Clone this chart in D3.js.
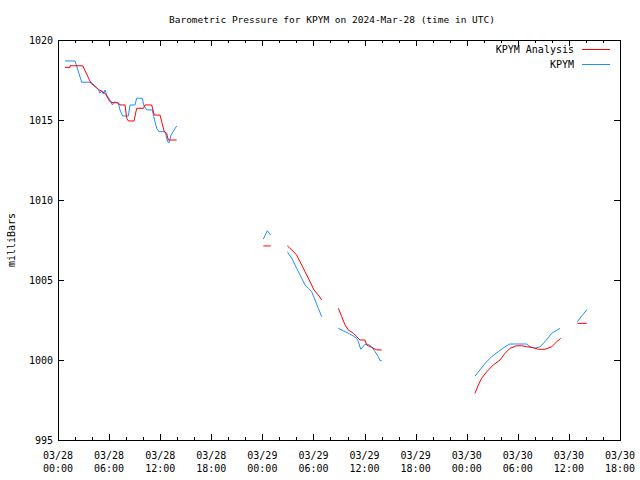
<!DOCTYPE html>
<html><head><meta charset="utf-8">
<script src="https://cdn.jsdelivr.net/npm/d3@7"></script>
<style>body{margin:0;background:#fff}svg{display:block}text{font-family:"DejaVu Sans Mono","Liberation Mono",monospace;font-size:10px;fill:#000}</style>
</head><body><svg id="c" width="640" height="480"></svg>
<script>
// hours since 2024-03-28 00:00 UTC; null = gap
const analysisHours = [0.82,1.41,1.41,2.90,3.88,4.73,5.52,6.11,6.49,7.08,7.28,7.87,8.07,8.26,8.93,9.24,10.02,10.22,11.00,11.31,11.98,12.18,12.48,12.77,12.95,13.94,null,
  24.11,24.98,null,
  26.93,27.45,28.03,28.42,29.01,29.60,30.06,30.57,30.97,null,
  32.92,33.32,33.71,34.09,34.68,35.08,35.47,36.05,36.25,36.84,37.43,38.02,null,
  48.97,49.36,49.76,50.35,51.12,51.91,52.50,53.08,53.87,54.46,55.04,55.82,56.41,57.19,57.98,58.57,59.04,null,
  60.99,62.09];
const analysisValues = [1018.29,1018.29,1018.39,1018.39,1017.29,1016.92,1016.67,1016.14,1016.08,1016.08,1015.94,1015.94,1015.11,1014.94,1014.94,1015.73,1015.73,1015.94,1015.94,1015.31,1015.31,1014.89,1014.27,1014.17,1013.75,1013.75,null,
  1007.13,1007.13,null,
  1007.13,1006.88,1006.56,1006.14,1005.52,1004.89,1004.38,1004.06,1003.75,null,
  1003.23,1002.71,1002.19,1001.88,1001.67,1001.46,1001.25,1001.25,1000.94,1000.79,1000.63,1000.63,null,
  997.92,998.44,998.86,999.27,999.69,1000.00,1000.42,1000.73,1000.89,1000.89,1000.83,1000.77,1000.67,1000.67,1000.83,1001.14,1001.36,null,
  1002.29,1002.29];
const kpymHours = [0.82,2.00,2.78,3.88,4.73,4.93,5.13,5.32,5.52,5.72,6.11,6.38,6.61,7.08,7.28,7.60,8.26,8.46,9.04,9.24,9.90,10.06,10.42,11.07,11.24,11.59,11.86,12.57,12.88,13.04,13.27,13.94,null,
  24.11,24.58,24.98,null,
  26.93,27.45,28.03,28.62,29.01,29.40,29.79,30.18,30.57,30.97,null,
  32.92,33.51,34.09,34.68,35.08,35.27,35.55,36.05,36.44,36.84,37.23,37.62,37.82,38.02,null,
  48.97,49.56,50.15,50.93,51.71,52.50,53.08,55.04,55.43,56.02,56.60,57.19,57.98,58.96,null,
  60.99,61.50,62.09];
const kpymValues = [1018.69,1018.69,1017.36,1017.36,1016.92,1016.67,1016.83,1016.63,1016.88,1016.56,1016.25,1015.94,1016.14,1016.04,1015.63,1015.25,1015.25,1015.94,1015.94,1016.36,1016.36,1015.94,1015.63,1015.63,1015.21,1014.48,1014.27,1014.27,1013.64,1013.58,1014.06,1014.63,null,
  1007.56,1008.08,1007.81,null,
  1006.77,1006.36,1005.73,1005.11,1004.69,1004.48,1004.27,1003.75,1003.23,1002.71,null,
  1001.98,1001.83,1001.67,1001.50,1001.36,1001.14,1000.67,1000.98,1000.98,1000.83,1000.52,1000.21,999.96,999.96,null,
  999.00,999.38,999.79,1000.21,1000.52,1000.83,1001.00,1001.00,1000.83,1000.73,1000.83,1001.14,1001.67,1001.98,null,
  1002.39,1002.75,1003.13];
const seriesNames = ["KPYM Analysis","KPYM"];
const seriesColors = ["#ff0000","#1e8fff"];
const xTickHours = [0,6,12,18,24,30,36,42,48,54,60,66];
const xTickDates = ["03/28","03/28","03/28","03/28","03/29","03/29","03/29","03/29","03/30","03/30","03/30","03/30"];
const xTickTimes = ["00:00","06:00","12:00","18:00","00:00","06:00","12:00","18:00","00:00","06:00","12:00","18:00"];
const yTicks = [995,1000,1005,1010,1015,1020];

const svg = d3.select("#c");
const L=58,R=620,T=40,B=440;
const x = d3.scaleLinear().domain([0,66]).range([L,R]);
const y = d3.scaleLinear().domain([995,1020]).range([B,T]);

// minor ticks (every 2h)
const minor = d3.range(0,67,2).filter(h=>h%6!==0);
const g = svg.append("g").attr("shape-rendering","crispEdges").attr("stroke","#000");
minor.forEach(h=>{
  g.append("line").attr("x1",Math.round(x(h))+0.5).attr("x2",Math.round(x(h))+0.5).attr("y1",B).attr("y2",B-3);
  g.append("line").attr("x1",Math.round(x(h))+0.5).attr("x2",Math.round(x(h))+0.5).attr("y1",T).attr("y2",T+3);
});
xTickHours.forEach(h=>{
  g.append("line").attr("x1",Math.round(x(h))+0.5).attr("x2",Math.round(x(h))+0.5).attr("y1",B).attr("y2",B-6);
  g.append("line").attr("x1",Math.round(x(h))+0.5).attr("x2",Math.round(x(h))+0.5).attr("y1",T).attr("y2",T+6);
});
yTicks.forEach(v=>{
  g.append("line").attr("x1",L).attr("x2",L+6).attr("y1",Math.round(y(v))+0.5).attr("y2",Math.round(y(v))+0.5);
  g.append("line").attr("x1",R).attr("x2",R-6).attr("y1",Math.round(y(v))+0.5).attr("y2",Math.round(y(v))+0.5);
});
g.append("rect").attr("x",L+0.5).attr("y",T+0.5).attr("width",R-L).attr("height",B-T).attr("fill","none");

// tick labels
xTickHours.forEach((h,i)=>{
  svg.append("text").attr("x",x(h)).attr("y",459).attr("text-anchor","middle").text(xTickDates[i]);
  svg.append("text").attr("x",x(h)).attr("y",472).attr("text-anchor","middle").text(xTickTimes[i]);
});
yTicks.forEach(v=>{
  svg.append("text").attr("x",53).attr("y",y(v)+4).attr("text-anchor","end").text(v);
});
svg.append("text").attr("transform","translate(15,240) rotate(-90)").attr("text-anchor","middle").text("milliBars");
svg.append("text").attr("x",332).attr("y",23).attr("text-anchor","middle").style("font-size","9.5px").text("Barometric Pressure for KPYM on 2024-Mar-28 (time in UTC)");

// series
const mk = (hs,vs)=>hs.map((h,i)=>({h,v:vs[i]}));
const line = d3.line().defined(d=>d.h!==null&&d.v!==null).x(d=>x(d.h)).y(d=>y(d.v));
const data = [mk(analysisHours,analysisValues), mk(kpymHours,kpymValues)];
[1,0].forEach(i=>{
  svg.append("path").datum(data[i]).attr("d",line).attr("fill","none").attr("stroke",seriesColors[i]).attr("stroke-width",1);
});

// legend
seriesNames.forEach((n,i)=>{
  const yy = 49+i*15;
  svg.append("text").attr("x",574).attr("y",yy+4).attr("text-anchor","end").text(n);
  svg.append("line").attr("x1",582).attr("x2",610).attr("y1",yy+0.5).attr("y2",yy+0.5).attr("stroke",seriesColors[i]).attr("shape-rendering","crispEdges");
});
</script></body></html>
